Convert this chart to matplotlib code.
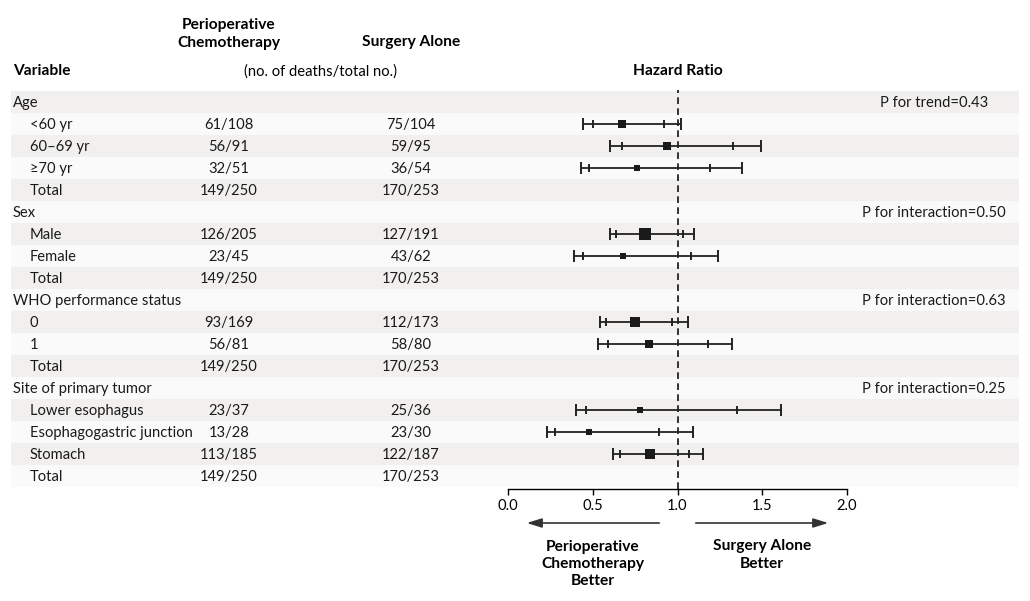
import numpy as np
import matplotlib
matplotlib.use("Agg")
import matplotlib.pyplot as plt

plt.rcParams['font.family'] = ['Lato', 'DejaVu Sans']

# ---- data ----
labels = ["Age", "<60 yr", "60\u201369 yr", "\u226570 yr", "Total",
          "Sex", "Male", "Female", "Total",
          "WHO performance status", "0", "1", "Total",
          "Site of primary tumor", "Lower esophagus", "Esophagogastric junction", "Stomach", "Total"]
is_group = [True, False, False, False, False,
            True, False, False, False,
            True, False, False, False,
            True, False, False, False, False]
chemo = ["", "61/108", "56/91", "32/51", "149/250",
         "", "126/205", "23/45", "149/250",
         "", "93/169", "56/81", "149/250",
         "", "23/37", "13/28", "113/185", "149/250"]
surgery = ["", "75/104", "59/95", "36/54", "170/253",
           "", "127/191", "43/62", "170/253",
           "", "112/173", "58/80", "170/253",
           "", "25/36", "23/30", "122/187", "170/253"]
p_values = {0: "P for trend=0.43", 5: "P for interaction=0.50",
            9: "P for interaction=0.63", 13: "P for interaction=0.25"}

nan = np.nan
hr = [nan, 0.67, 0.94, 0.76, nan, nan, 0.81, 0.68, nan, nan, 0.75, 0.83, nan,
      nan, 0.78, 0.48, 0.84, nan]
ci95_lo = [nan, 0.50, 0.67, 0.48, nan, nan, 0.64, 0.44, nan, nan, 0.58, 0.59, nan,
           nan, 0.46, 0.28, 0.66, nan]
ci95_hi = [nan, 0.92, 1.33, 1.19, nan, nan, 1.03, 1.08, nan, nan, 0.97, 1.18, nan,
           nan, 1.35, 0.89, 1.07, nan]
ci99_lo = [nan, 0.44, 0.60, 0.43, nan, nan, 0.60, 0.39, nan, nan, 0.54, 0.53, nan,
           nan, 0.40, 0.23, 0.62, nan]
ci99_hi = [nan, 1.02, 1.49, 1.38, nan, nan, 1.10, 1.24, nan, nan, 1.06, 1.32, nan,
           nan, 1.61, 1.09, 1.15, nan]
hr_ticks = [0.0, 0.5, 1.0, 1.5, 2.0]

W, H = 1030, 601
fig = plt.figure(figsize=(W / 100, H / 100), dpi=100)

# background axes in pixel coordinates for the table
bg = fig.add_axes([0, 0, 1, 1])
bg.set_xlim(0, W)
bg.set_ylim(H, 0)
bg.axis('off')

row0, step = 102, 22
fs = 10.6
fsb = 11.2
for i, lab in enumerate(labels):
    yc = row0 + step * i
    color = '#f1f0ee' if i % 2 == 0 else '#fbfafa'
    bg.fill_between([11, 1019], yc - step / 2, yc + step / 2, color=color, lw=0, zorder=0)
    bg.text(13 if is_group[i] else 30, yc + 1, lab, fontsize=fs, va='center', ha='left', color='#1a1a1a')
    bg.text(229, yc + 1, chemo[i], fontsize=fs, va='center', ha='center', color='#1a1a1a')
    bg.text(411, yc + 1, surgery[i], fontsize=fs, va='center', ha='center', color='#1a1a1a')
    if i in p_values:
        bg.text(934, yc + 1, p_values[i], fontsize=fs, va='center', ha='center', color='#1a1a1a')

# headers
bg.text(13, 71, "Variable", fontsize=fsb, fontweight='bold', va='center', ha='left')
bg.text(229, 34, "Perioperative\nChemotherapy", fontsize=fsb, fontweight='bold',
        va='center', ha='center', linespacing=1.3)
bg.text(411, 42, "Surgery Alone", fontsize=fsb, fontweight='bold', va='center', ha='center')
bg.text(320, 72, "(no. of deaths/total no.)", fontsize=fs, va='center', ha='center')
bg.text(678, 71, "Hazard Ratio", fontsize=fsb, fontweight='bold', va='center', ha='center')

# arrows and labels under the axis
arrow_kw = dict(arrowstyle='-|>,head_length=0.9,head_width=0.28', color='#333333', lw=1.2)
bg.annotate('', xy=(524, 523), xytext=(662, 523), arrowprops=arrow_kw)
bg.annotate('', xy=(831, 523), xytext=(693, 523), arrowprops=arrow_kw)
bg.text(593, 564, "Perioperative\nChemotherapy\nBetter", fontsize=fsb, fontweight='bold',
        va='center', ha='center', linespacing=1.3)
bg.text(762, 555, "Surgery Alone\nBetter", fontsize=fsb, fontweight='bold',
        va='center', ha='center', linespacing=1.3)

# forest axes
x0, x1 = 508, 847
ytop, ybot = 90, 489
ax = fig.add_axes([x0 / W, 1 - ybot / H, (x1 - x0) / W, (ybot - ytop) / H])
ax.patch.set_visible(False)
ax.set_xlim(0, 2)
ax.set_ylim((ybot - row0) / step, (ytop - row0) / step)
for s in ['top', 'left', 'right']:
    ax.spines[s].set_visible(False)
ax.spines['bottom'].set_linewidth(1.0)
ax.set_yticks([])
ax.set_xticks(hr_ticks)
ax.set_xticklabels([f"{t:.1f}" for t in hr_ticks], fontsize=fs)
ax.tick_params(axis='x', direction='out', length=4, width=1, pad=3)

ax.axvline(1.0, color='#111111', lw=1.2, ls=(0, (4, 2.6)), zorder=1)

ink = '#222222'
for i in range(len(labels)):
    if np.isnan(hr[i]):
        continue
    ax.plot([ci99_lo[i], ci99_hi[i]], [i, i], color=ink, lw=1.3, zorder=2)
    ax.plot([ci99_lo[i], ci99_hi[i]], [i, i], ls='none', marker='|', ms=8.5, mew=1.4, color=ink, zorder=3)
    ax.plot([ci95_lo[i], ci95_hi[i]], [i, i], ls='none', marker='|', ms=5.5, mew=1.4, color=ink, zorder=3)
    deaths = int(chemo[i].split('/')[0]) + int(surgery[i].split('/')[0])
    size_px = 1.66 + 0.606 * np.sqrt(deaths)
    ax.plot(hr[i], i, marker='s', ms=size_px * 72 / 100, color='#1a1a1a', mew=0, zorder=4)

fig.savefig('out.png', dpi=100, facecolor='white')
